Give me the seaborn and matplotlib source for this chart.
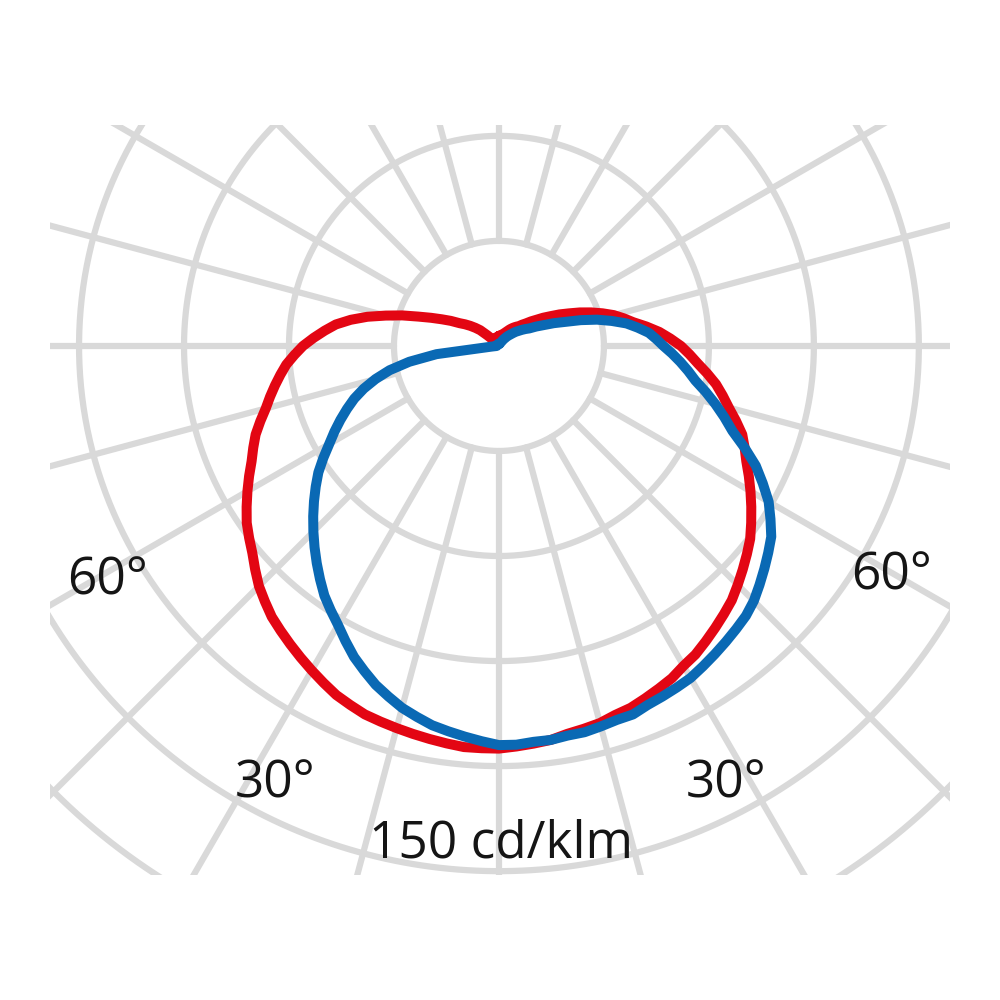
import numpy as np
import pandas as pd
import seaborn as sns
import matplotlib.pyplot as plt

# 配光曲线数据 (cd/klm)，gamma 角从正下方起算，每 2.5 度一个读数
angles = [-180 + 2.5 * i for i in range(145)]

# C0-C180 平面 (红)，每行 10 度
red_c0 = [2.9, 2.8, 2.7, 2.6,
          2.6, 2.6, 2.6, 2.5,
          2.4, 2.3, 2.3, 2.3,
          2.3, 2.3, 2.3, 2.3,
          2.3, 2.5, 2.9, 4.5,
          7, 8.5, 10, 11.5,
          13, 15.5, 18, 21,
          24.5, 29, 33.5, 38.5,
          43, 47, 50, 53,
          56, 58.5, 61, 63,
          65, 67, 69, 71.5,
          74, 76, 78, 80.5,
          83, 85.5, 88, 90,
          92, 94.5, 97, 99,
          101, 102.5, 104, 105.5,
          107, 108.5, 110, 111,
          112, 112.5, 113, 113.5,
          114, 114.5, 115, 115,
          115, 114.5, 114, 113.5,
          112.5, 112, 111.5, 110.5,
          110, 109, 108, 107,
          105.5, 104.5, 103, 101.5,
          100, 98.5, 96.5, 94.5,
          92.5, 90.5, 88, 85.5,
          83, 80.5, 78, 76,
          74, 71, 68, 65.5,
          63, 60, 57, 54.5,
          52, 49, 46, 42.5,
          39, 36.5, 34, 31,
          28, 25, 22, 19.5,
          17, 15, 13, 11.5,
          10, 9, 8, 7.5,
          7, 6.5, 6, 5.5,
          5, 4.6, 4.3, 4.0,
          3.7, 3.5, 3.4, 3.2,
          3.1, 3.0, 2.9, 2.9,
          2.9]

# C90-C270 平面 (蓝)
blue_c90 = [0.6, 0.6, 0.6, 0.6,
            0.6, 0.6, 0.6, 0.6,
            0.6, 0.6, 0.6, 0.6,
            0.6, 0.6, 0.6, 0.6,
            0.6, 0.6, 0.6, 0.6,
            0.6, 0.6, 0.6, 0.6,
            0.6, 0.6, 0.6, 0.6,
            0.6, 0.6, 0.6, 0.6,
            0.6, 0.6, 0.6, 0.6,
            0.6, 0.8, 2, 18,
            26, 32, 36.5, 40.5,
            44, 47, 50, 53,
            56, 59.5, 63, 66,
            69, 72, 75, 78,
            81, 84, 87, 89.5,
            92, 95, 98, 100.5,
            103, 105, 107, 108.5,
            110, 111, 112, 113,
            114, 114, 113.5, 113.5,
            113, 113, 112.5, 112,
            112, 111, 110.5, 110,
            109.5, 108.5, 107.5, 106.5,
            105.5, 104.5, 103, 101,
            99, 97, 95, 92,
            89, 85, 81, 76,
            71, 67.5, 64, 60.5,
            57, 54.5, 52, 49.5,
            47, 45, 43, 40,
            37, 33, 29, 24.5,
            20, 17, 14, 12,
            10, 9, 8, 7,
            6.3, 5.4, 4.6, 4.0,
            3.4, 2.8, 2.3, 1.8,
            1.4, 1.1, 0.9, 0.7,
            0.6, 0.6, 0.6, 0.6,
            0.6, 0.6, 0.6, 0.6,
            0.6]

ring_values = [30, 60, 90, 120, 150, 180]
spoke_angles = list(range(0, 360, 15))
angle_labels = ['60°', '30°', '30°', '60°']
scale_label = '150 cd/klm'

sns.set_theme(style='white')
plt.rcParams['font.family'] = ['Open Sans', 'DejaVu Sans']

n = len(angles)
df = pd.DataFrame({'angle': angles * 2,
                   'value': red_c0 + blue_c90,
                   'plane': ['C0-C180'] * n + ['C90-C270'] * n})
rad = np.deg2rad(df['angle'])
df['x'] = df['value'] * np.sin(rad)
df['y'] = -df['value'] * np.cos(rad)

fig = plt.figure(figsize=(10, 10), dpi=100)
fig.patch.set_facecolor('white')
# 网格被裁剪在一个矩形里
ax = fig.add_axes([0.05, 0.125, 0.9, 0.75])
ax.set_xlim(-128.3, 128.9)
ax.set_ylim(-151.1, 63.1)
ax.axis('off')

grid_color = '#d9d9d9'
t = np.linspace(0, 2 * np.pi, 721)
for r in ring_values:
    ax.plot(r * np.cos(t), r * np.sin(t), color=grid_color, lw=4.5, zorder=1)
for a in spoke_angles:
    g = np.deg2rad(a)
    ax.plot([ring_values[0] * np.sin(g), 260 * np.sin(g)],
            [-ring_values[0] * np.cos(g), -260 * np.cos(g)],
            color=grid_color, lw=4.5, zorder=1)

sns.lineplot(data=df, x='x', y='y', hue='plane', palette=['#e30613', '#0a69b4'],
             sort=False, estimator=None, lw=7.2, legend=False, ax=ax,
             solid_joinstyle='round', solid_capstyle='round', zorder=3)

# 角度标签
label_pos = [(-112, -71.1), (-64, -128.9), (64.9, -128.9), (112.3, -69.7)]
for (lx, ly), s in zip(label_pos, angle_labels):
    ax.text(lx, ly, s, ha='center', va='baseline', fontsize=37,
            color='#151515', clip_on=False, zorder=4)
ax.text(0.6, -146, scale_label, ha='center', va='baseline', fontsize=37,
        color='#151515', clip_on=False, zorder=4)

plt.savefig('out.png', dpi=100, facecolor='white')
